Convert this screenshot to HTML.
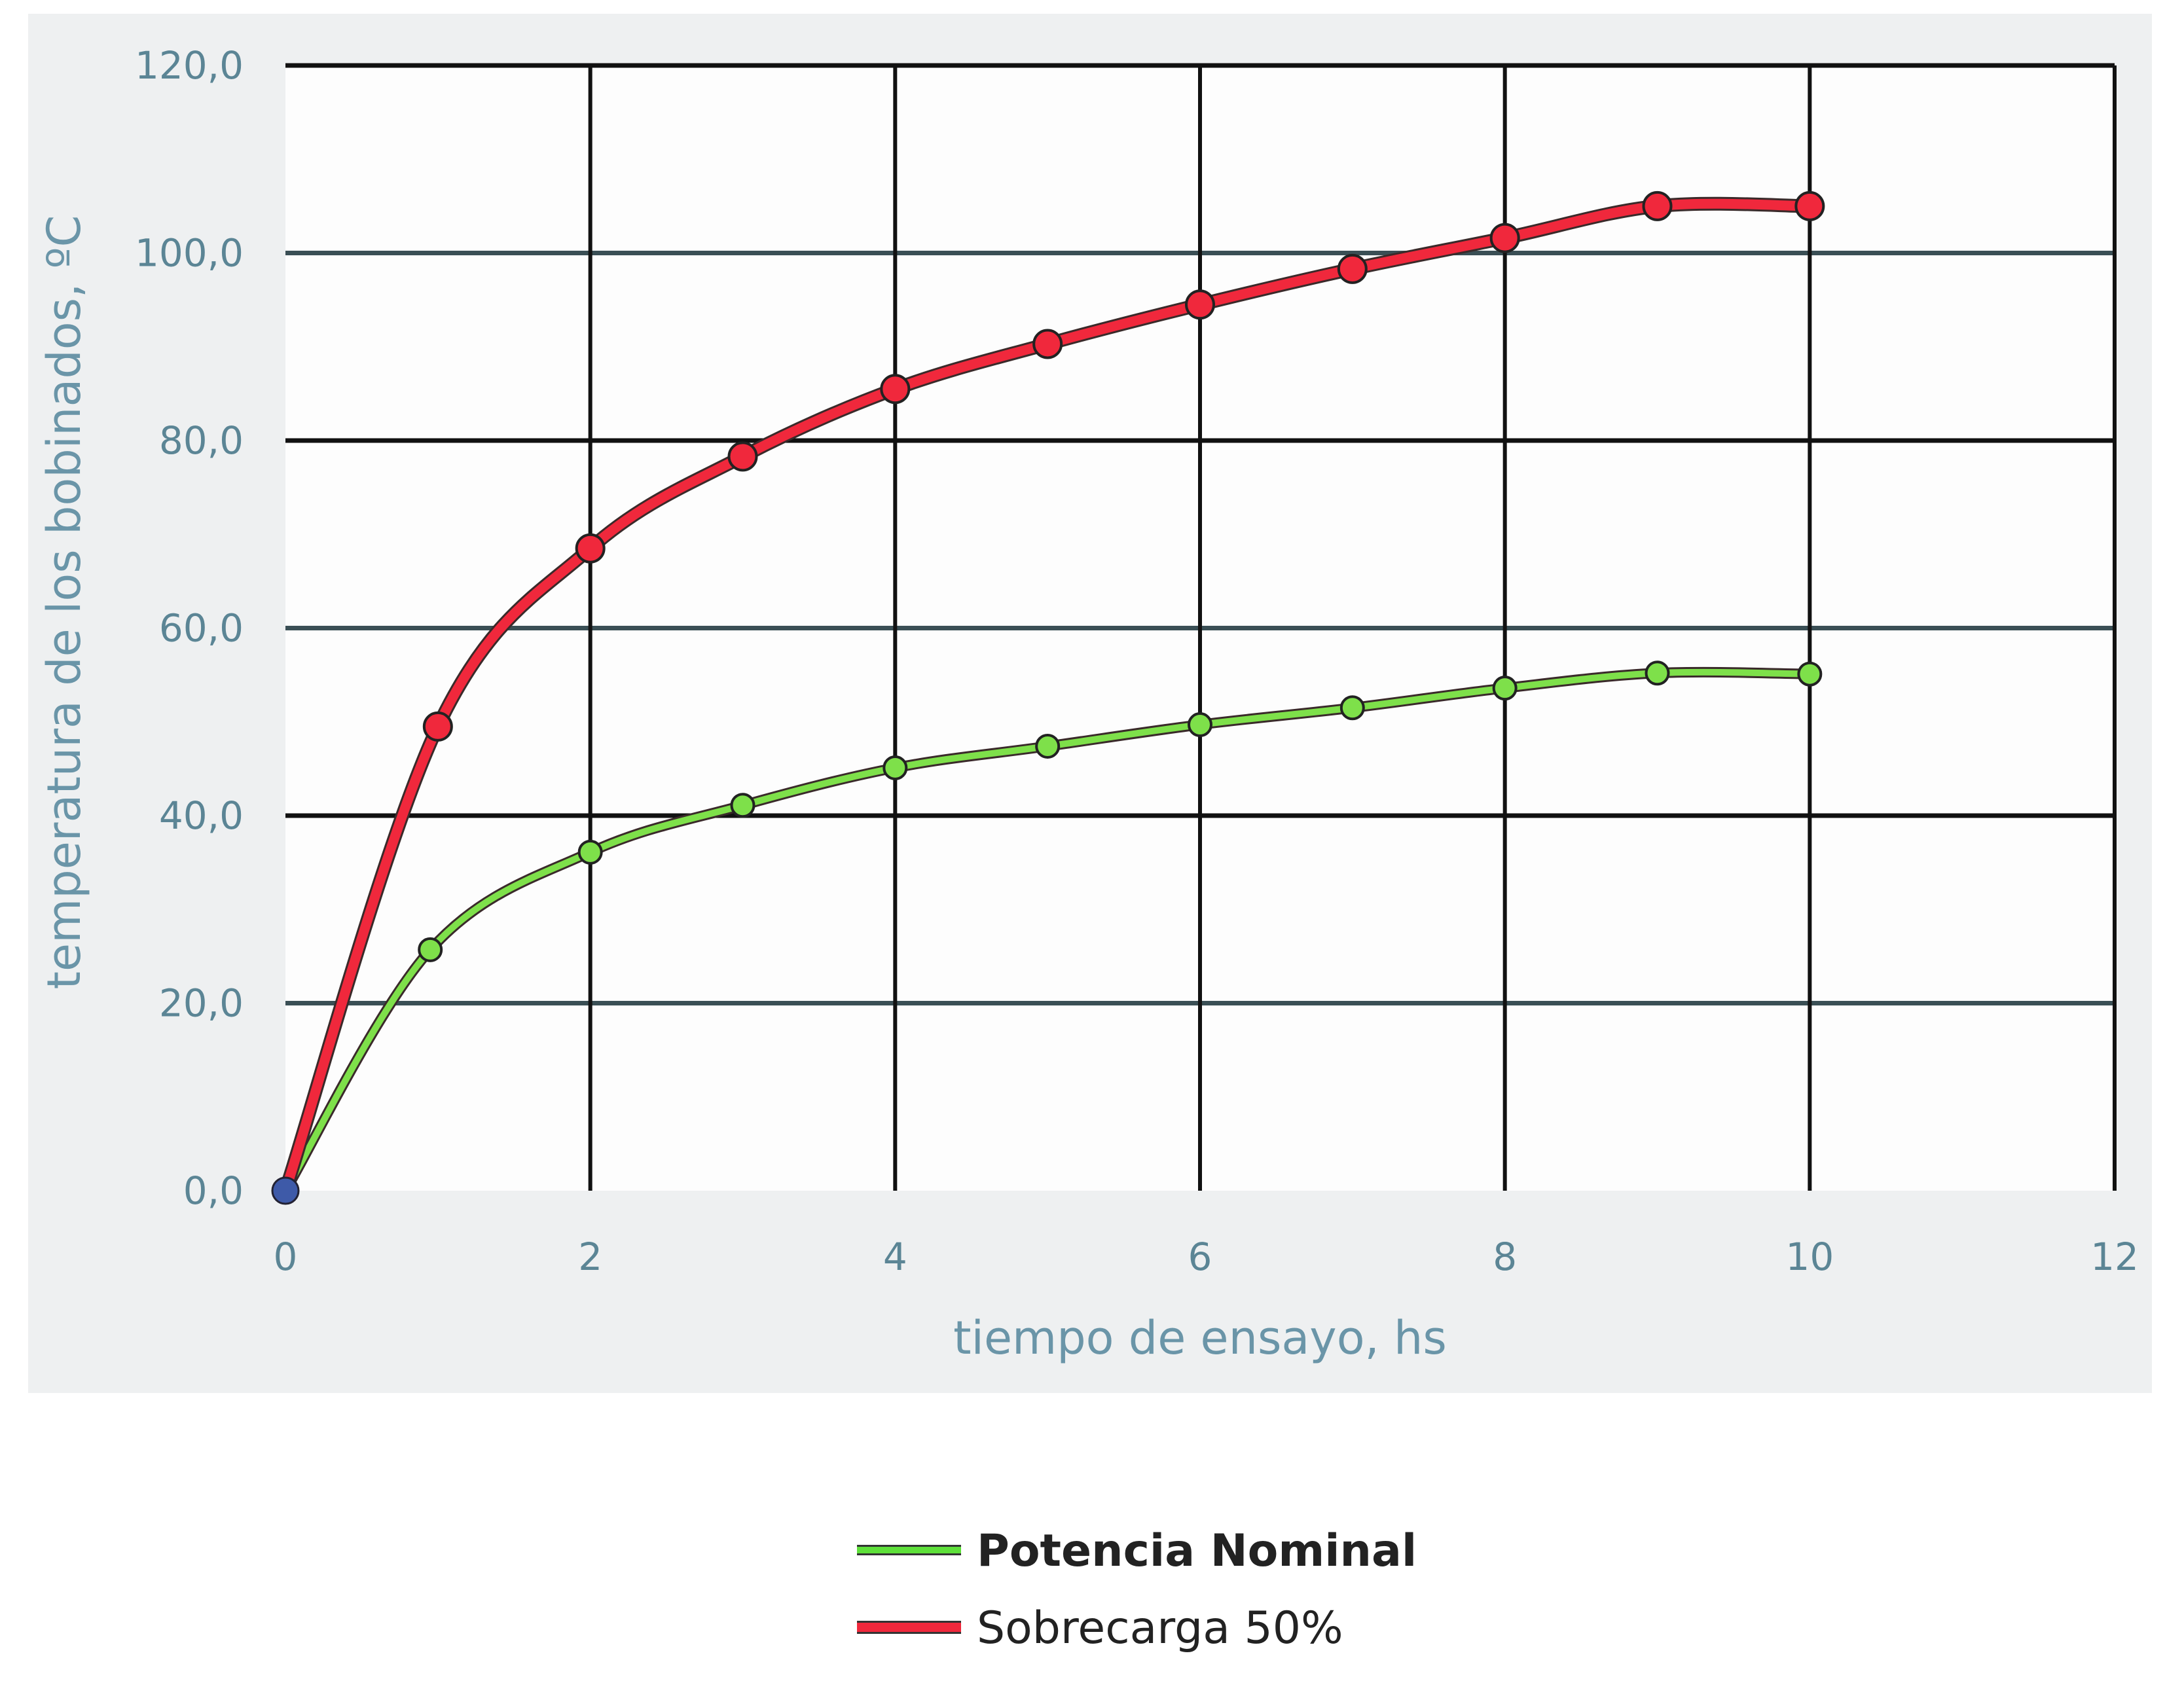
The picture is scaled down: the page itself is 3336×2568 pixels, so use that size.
<!DOCTYPE html>
<html><head><meta charset="utf-8"><style>
html,body{margin:0;padding:0;background:#fff;}
svg{display:block;font-family:"DejaVu Sans","Liberation Sans",sans-serif;}
</style></head><body>
<svg id="chart" width="3336" height="2568" viewBox="0 0 3336 2568" xmlns="http://www.w3.org/2000/svg">
<rect x="43" y="21" width="3244" height="2107" fill="#eef0f1"/>
<rect x="436" y="100" width="2794" height="1719" fill="#fdfdfd"/>
<g id="grid"></g>
<g id="ylabels" fill="#5b8595" font-size="58" text-anchor="end"></g>
<g id="xlabels" fill="#5b8595" font-size="58" text-anchor="middle"></g>
<text x="1833" y="2068" fill="#6a95a8" font-size="70" text-anchor="middle">tiempo de ensayo, hs</text>
<text transform="translate(122,920) rotate(-90)" fill="#6a95a8" font-size="70" text-anchor="middle">temperatura de los bobinados, ºC</text>
<g id="series"></g>
<g>
<g>
<line x1="1309" y1="2368" x2="1468" y2="2368" stroke="#333" stroke-width="16"/>
<line x1="1309" y1="2368" x2="1468" y2="2368" stroke="#5ee03a" stroke-width="10"/>
<text x="1492" y="2392" font-size="68" font-weight="bold" fill="#222">Potencia Nominal</text>
</g>
<g>
<line x1="1309" y1="2486" x2="1468" y2="2486" stroke="#333" stroke-width="20"/>
<line x1="1309" y1="2486" x2="1468" y2="2486" stroke="#f0283c" stroke-width="14"/>
<text x="1492" y="2510" font-size="68" fill="#222">Sobrecarga 50%</text>
</g>
</g>
</svg>
<script>
const xTicks=[0,2,4,6,8,10,12];
const yTicks=[0,20,40,60,80,100,120];
const yTickLabels=["0,0","20,0","40,0","60,0","80,0","100,0","120,0"];
const nominalX=[0,0.95,2,3,4,5,6,7,8,9,10];
const nominalY=[0,25.7,36.1,41.1,45.1,47.4,49.7,51.5,53.6,55.2,55.1];
const sobreX=[0,1,2,3,4,5,6,7,8,9,10];
const sobreY=[0,49.5,68.5,78.3,85.5,90.3,94.5,98.3,101.6,105,105];
const NS="http://www.w3.org/2000/svg";
const L=436,R=3230,T=100,B=1819;
function sx(v){return L+(v-0)/12*(R-L);}
function sy(v){return B-(v-0)/120*(B-T);}
function mk(t,a,p){const e=document.createElementNS(NS,t);for(const k in a)e.setAttribute(k,a[k]);p.appendChild(e);return e;}
const grid=document.getElementById('grid');
yTicks.forEach((v,i)=>{
 if(v>0){const l=mk('line',{x1:L,y1:sy(v),x2:R,y2:sy(v),stroke:i%2?'#3a4f55':'#111','stroke-width':7},grid);
 
 }
 const t=mk('text',{x:372,y:sy(v)+20},document.getElementById('ylabels'));
 
 
 t.textContent=yTickLabels[i];
});
xTicks.forEach(v=>{
 if(v>0){const l=mk('line',{x1:sx(v),y1:T,x2:sx(v),y2:B,stroke:'#111','stroke-width':6},grid);
 
 }
 const t=mk('text',{x:sx(v),y:1940},document.getElementById('xlabels'));
 
 
 t.textContent=String(v);
});
function pathFor(xs,ys){
 const p=xs.map((x,i)=>[sx(x),sy(ys[i])]);
 let d='M'+p[0][0]+','+p[0][1];
 for(let i=0;i<p.length-1;i++){
  const p0=p[i-1]||p[i],p1=p[i],p2=p[i+1],p3=p[i+2]||p[i+1];
  const t=0.17;
  const c1=[p1[0]+(p2[0]-p0[0])*t,p1[1]+(p2[1]-p0[1])*t];
  const c2=[p2[0]-(p3[0]-p1[0])*t,p2[1]-(p3[1]-p1[1])*t];
  d+=' C'+c1+' '+c2+' '+p2;
 }
 return d;
}
const sg=document.getElementById('series');
function series(xs,ys,col,w,r,name){
 const g=mk('g',{},sg);
 
 
 const d=pathFor(xs,ys);
 mk('path',{d:d,fill:'none',stroke:'#3a2a2a','stroke-width':w+6},g);
 const ln=mk('path',{d:d,fill:'none',stroke:col,'stroke-width':w},g);
 
 
 xs.forEach((x,i)=>{if(i===0)return;
  const c=mk('circle',{cx:sx(x),cy:sy(ys[i]),r:r,fill:col,stroke:'#222','stroke-width':4},g);
  
  
 });
}
series(nominalX,nominalY,'#7ee04a',10,17,'potencia-nominal');
series(sobreX,sobreY,'#f0283c',15,21,'sobrecarga-50');
const o=mk('circle',{cx:sx(0),cy:sy(0),r:20,fill:'#3e5aa8',stroke:'#223','stroke-width':3},sg);


</script>
</body></html>
